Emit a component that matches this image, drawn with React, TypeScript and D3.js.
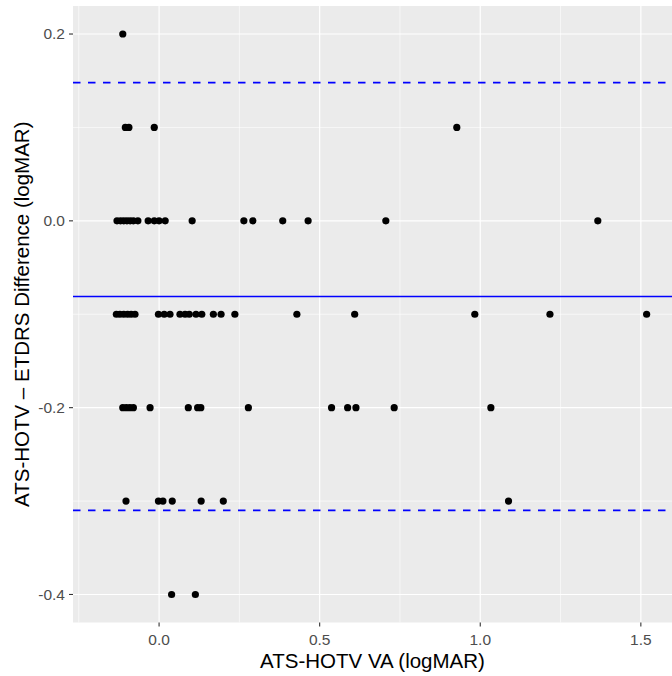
import React from 'react';
import * as d3 from 'd3';

// ATS-HOTV VA (logMAR) readings, grouped by their difference level
const diffLevels = [0.2, 0.1, 0.0, -0.1, -0.2, -0.3, -0.4];
const vaAtPlus02 = [-0.113];
const vaAtPlus01 = [-0.105, -0.094, -0.015, 0.927];
const vaAtZero = [-0.131, -0.12, -0.11, -0.1, -0.09, -0.08, -0.066, -0.034, -0.015, 0.0, 0.019,
  0.103, 0.264, 0.292, 0.385, 0.464, 0.706, 1.366];
const vaAtMinus01 = [-0.133, -0.122, -0.11, -0.098, -0.087, -0.075, -0.002, 0.016, 0.034, 0.065,
  0.081, 0.094, 0.115, 0.133, 0.169, 0.193, 0.236, 0.429, 0.609, 0.983, 1.217, 1.518];
const vaAtMinus02 = [-0.113, -0.102, -0.091, -0.08, -0.028, 0.091, 0.12, 0.13, 0.278, 0.537,
  0.587, 0.613, 0.732, 1.033];
const vaAtMinus03 = [-0.103, -0.002, 0.012, 0.041, 0.131, 0.2, 1.088];
const vaAtMinus04 = [0.039, 0.113];
const vaByLevel = [vaAtPlus02, vaAtPlus01, vaAtZero, vaAtMinus01, vaAtMinus02, vaAtMinus03, vaAtMinus04];

// Bland-Altman summary lines
const meanDiff = -0.081;
const loaUpper = 0.148;
const loaLower = -0.31;

const xTicks = [0, 0.5, 1.0, 1.5];
const xTickLabels = ['0.0', '0.5', '1.0', '1.5'];
const xMinor = [-0.25, 0.25, 0.75, 1.25];
const yTicks = [0.2, 0.0, -0.2, -0.4];
const yTickLabels = ['0.2', '0.0', '-0.2', '-0.4'];
const yMinor = [0.1, -0.1, -0.3];

const points = diffLevels.flatMap((d, i) => vaByLevel[i].map((va) => ({ va, d })));

const App = () => {
  const width = 672;
  const height = 676;
  const left = 73;
  const right = 672;
  const top = 6;
  const bottom = 622.5;

  const x = d3.scaleLinear().domain([-0.268, 1.597]).range([left, right]);
  const y = d3.scaleLinear().domain([-0.43, 0.23]).range([bottom, top]);

  const font = '"Liberation Sans", Arial, sans-serif';

  return (
    <svg width={width} height={height} style={{ position: 'absolute', left: 0, top: 0, display: 'block' }}>
      <rect x={0} y={0} width={width} height={height} fill="#fff" />
      <rect x={left} y={top} width={right - left} height={bottom - top} fill="#EBEBEB" />

      {/* minor grid */}
      {xMinor.map((v) => (
        <line key={'xm' + v} x1={x(v)} x2={x(v)} y1={top} y2={bottom} stroke="#fff" strokeWidth={0.6} />
      ))}
      {yMinor.map((v) => (
        <line key={'ym' + v} x1={left} x2={right} y1={y(v)} y2={y(v)} stroke="#fff" strokeWidth={0.6} />
      ))}
      {/* major grid */}
      {xTicks.map((v) => (
        <line key={'xg' + v} x1={x(v)} x2={x(v)} y1={top} y2={bottom} stroke="#fff" strokeWidth={1.2} />
      ))}
      {yTicks.map((v) => (
        <line key={'yg' + v} x1={left} x2={right} y1={y(v)} y2={y(v)} stroke="#fff" strokeWidth={1.2} />
      ))}

      {/* points */}
      {points.map((p, i) => (
        <circle key={i} cx={x(p.va)} cy={y(p.d)} r={3.6} fill="#000" />
      ))}

      {/* mean and limits of agreement */}
      <line x1={left} x2={right} y1={y(meanDiff)} y2={y(meanDiff)} stroke="#0000FF" strokeWidth={1.6} />
      <line x1={left} x2={right} y1={y(loaUpper)} y2={y(loaUpper)} stroke="#0000FF" strokeWidth={1.6}
        strokeDasharray="7.5,7.5" />
      <line x1={left} x2={right} y1={y(loaLower)} y2={y(loaLower)} stroke="#0000FF" strokeWidth={1.6}
        strokeDasharray="7.5,7.5" />

      {/* x axis */}
      {xTicks.map((v, i) => (
        <g key={'xt' + v}>
          <line x1={x(v)} x2={x(v)} y1={bottom} y2={bottom + 4} stroke="#333" strokeWidth={1.1} />
          <text x={x(v)} y={645} textAnchor="middle" fontFamily={font} fontSize={15.5} fill="#4D4D4D">
            {xTickLabels[i]}
          </text>
        </g>
      ))}
      {/* y axis */}
      {yTicks.map((v, i) => (
        <g key={'yt' + v}>
          <line x1={left - 4} x2={left} y1={y(v)} y2={y(v)} stroke="#333" strokeWidth={1.1} />
          <text x={left - 8} y={y(v)} dy="0.35em" textAnchor="end" fontFamily={font} fontSize={15.5} fill="#4D4D4D">
            {yTickLabels[i]}
          </text>
        </g>
      ))}

      <text x={(left + right) / 2} y={668} textAnchor="middle" fontFamily={font} fontSize={20.5} fill="#000">
        ATS-HOTV VA (logMAR)
      </text>
      <text transform={`translate(29, ${(top + bottom) / 2}) rotate(-90)`} textAnchor="middle"
        fontFamily={font} fontSize={20.5} fill="#000">
        ATS-HOTV – ETDRS Difference (logMAR)
      </text>
    </svg>
  );
};

export default App;
